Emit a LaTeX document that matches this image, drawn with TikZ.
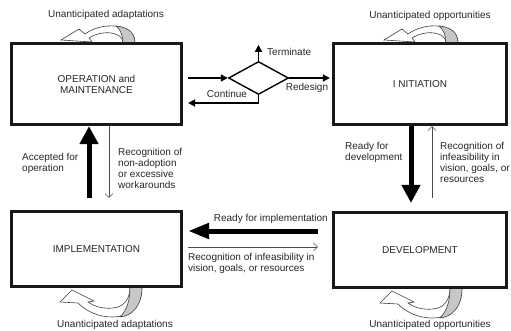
\documentclass[tikz,border=0pt]{standalone}
\usepackage{fontspec}
\setmainfont{Liberation Sans}
\usetikzlibrary{arrows.meta,shapes.geometric,calc}
\begin{document}
\begin{tikzpicture}[x=1pt,y=-1pt,
  font=\fontsize{10}{11}\selectfont,
  every node/.style={text=black!85},
  box/.style={draw=black!90, line width=3.2pt, rectangle, inner sep=0pt, align=center},
  lbl/.style={inner sep=0pt, align=left},
  thickarr/.style={line width=5pt, -{Triangle[length=18pt,width=18pt]}},
  thickharr/.style={line width=5pt, -{Triangle[length=21pt,width=15pt]}},
  thinarr/.style={line width=0.6pt, draw=black!70, -{Straight Barb[length=4pt,width=8pt]}},
  medarr/.style={line width=1.5pt, -{Triangle[length=7pt,width=7pt]}},
  ribbon/.style={draw=black!75, line width=0.6pt, fill=white},
  ribgray/.style={draw=black!75, line width=0.6pt, fill=black!22},
]
\useasboundingbox (0,0) rectangle (511,331);

% ribbons (self loops)
\foreach \dx in {0,323}{
\begin{scope}[xshift=\dx pt]
\draw[ribbon] (135,43) .. controls (135,30) and (122,25) .. (107,26)
  .. controls (97,27) and (89,31) .. (85,34)
  -- (79,29) -- (61,40) -- (92,42) -- (89,38)
  .. controls (95,34) and (104,32) .. (111,33)
  .. controls (118,34) and (123,37) .. (123,43) -- cycle;
\draw[ribgray] (135,43) .. controls (135,31) and (126,27) .. (116,26)
  .. controls (121,30) and (123,36) .. (123,43) -- cycle;
\end{scope}}
\foreach \dx/\dy in {0/0,320/1}{
\begin{scope}[xshift=\dx pt, yshift=-\dy pt]
\draw[ribbon] (142,287) .. controls (142,306) and (130,317) .. (112,317)
  .. controls (98,317) and (86,311) .. (78,303)
  -- (60,302) -- (72,290) -- (94,301) -- (88,302)
  .. controls (95,307) and (104,309) .. (113,308)
  .. controls (124,307) and (130,299) .. (130,287) -- cycle;
\draw[ribgray] (142,287) .. controls (142,306) and (132,316) .. (120,317)
  .. controls (127,310) and (130,300) .. (130,287) -- cycle;
\end{scope}}

% boxes
\node[box, minimum width=170pt, minimum height=81pt] (op) at (96.5,84) {OPERATION and\\MAINTENANCE};
\node[box, minimum width=173pt, minimum height=81pt] (init) at (420,84) {I NITIATION};
\node[box, minimum width=170pt, minimum height=75pt] (impl) at (96.5,249) {IMPLEMENTATION};
\node[box, minimum width=173pt, minimum height=75pt] (dev) at (420,250) {DEVELOPMENT};

% decision diamond
\node[diamond, draw, line width=1.4pt, minimum width=60pt, minimum height=33pt, inner sep=0pt] (dec) at (258.5,78) {};
\coordinate (c1) at ([yshift=6pt]op.east);
\draw[medarr, shorten <=5pt] (c1) -- (dec.west);
\draw[medarr] (dec.north) -- ++(0,-16);
\draw[medarr, shorten >=2pt] (dec.east) -- (dec.east -| init.west);
\coordinate (c2) at ([yshift=-19pt]op.east);
\draw[medarr, shorten >=5pt] (dec.south) -- (dec.south |- c2) -- (c2);
\node[lbl, anchor=west] (tlab) at (267,52) {Terminate};
\node[lbl] (rlab) at (307,88) {Redesign};
\node[lbl] (clab) at (227,94) {Continue};

% vertical connectors
\draw[thickarr, shorten <=12pt] ([xshift=-7.5pt]impl.north) -- ([xshift=-7.5pt]op.south);
\draw[thinarr, shorten >=12pt] ([xshift=12.5pt]op.south) -- ([xshift=12.5pt]impl.north);
\draw[thickarr, shorten >=8pt] ([xshift=-9pt]init.south) -- ([xshift=-9pt]dev.north);
\draw[thinarr, shorten <=13pt] ([xshift=12pt]dev.north) -- ([xshift=12pt]init.south);

% horizontal connectors
\coordinate (h1) at ([yshift=19pt]dev.west);
\draw[thickharr, shorten <=14pt, shorten >=5pt] (h1) -- (h1 -| impl.east);
\coordinate (h2) at ([yshift=3pt]dev.west);
\draw[thinarr, shorten <=5pt, shorten >=14pt] (h2 -| impl.east) -- (h2);

% labels
\node[lbl, anchor=west] (accl) at (22,163.5) {Accepted for\\operation};
\node[lbl, anchor=west] (nonl) at (118,168.5) {Recognition of\\non-adoption\\or excessive\\workarounds};
\node[lbl, anchor=west] (rdl) at (345,152) {Ready for\\development};
\node[lbl, anchor=west] (infl) at (440,162.5) {Recognition of\\infeasibility in\\vision, goals, or\\resources};
\node[lbl, anchor=east] (ril) at (328,219) {Ready for implementation};
\node[lbl, anchor=west] (rinf) at (188,263.5) {Recognition of infeasibility in\\vision, goals, or resources};

\node (tl) at (106,15) {Unanticipated adaptations};
\node (tr) at (430,16) {Unanticipated opportunities};
\node (bl) at (115,325) {Unanticipated adaptations};
\node (br) at (430,325) {Unanticipated opportunities};
\end{tikzpicture}
\end{document}
